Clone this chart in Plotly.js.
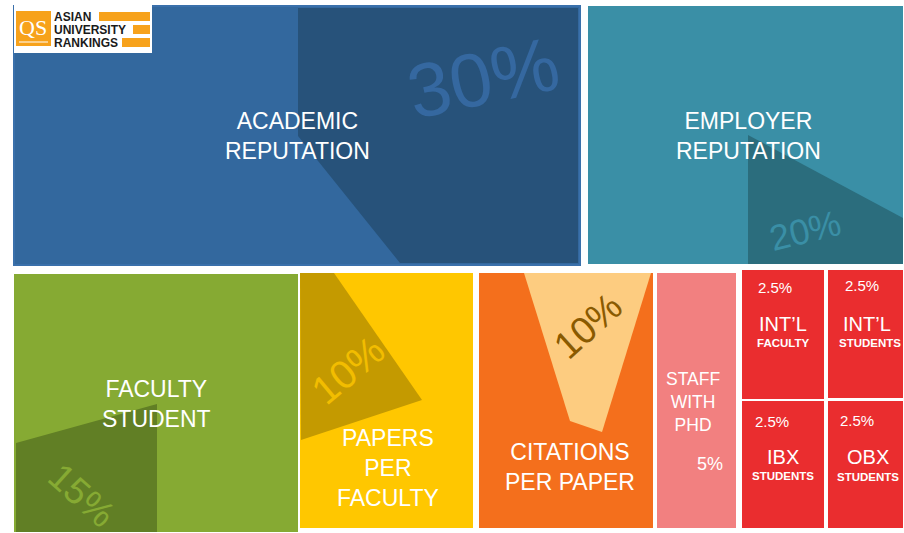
<!DOCTYPE html>
<html>
<head>
<meta charset="utf-8">
<script src="https://cdn.plot.ly/plotly-3.0.1.min.js"></script>
<style>
  html, body { margin: 0; padding: 0; background: #fff; }
  #chart { width: 904px; height: 533px; }
</style>
</head>
<body>
<div id="chart"></div>
<script>
// QS Asian University Rankings – weighting of each indicator
const criteria = [
  'ACADEMIC<br>REPUTATION', 'EMPLOYER<br>REPUTATION', 'FACULTY<br>STUDENT',
  'PAPERS<br>PER<br>FACULTY', 'CITATIONS<br>PER PAPER', 'STAFF<br>WITH<br>PHD',
  'INT’L', 'INT’L', 'IBX', 'OBX',
];
const subLabels = ['', '', '', '', '', '', 'FACULTY', 'STUDENTS', 'STUDENTS', 'STUDENTS'];
const weights = [30, 20, 15, 10, 10, 5, 2.5, 2.5, 2.5, 2.5];

// tile boxes in page pixels [x0, x1, y0, y1]
const boxes = [
  [14, 580, 6, 265], [588, 903, 6, 264], [14, 298, 274, 532],
  [300, 473, 273, 528], [479, 653, 273, 528], [657, 736, 273, 528],
  [742, 824, 270, 399], [828, 903, 270, 398], [742, 824, 401, 528], [828, 903, 401, 528],
];
const fills = ['#33689e', '#3a8fa6', '#86aa33', '#ffc700', '#f46f1c', '#f28080',
  '#ea2d2f', '#ea2d2f', '#ea2d2f', '#ea2d2f'];

const FONT = "'Liberation Sans', Arial, sans-serif";

const data = boxes.map((b, i) => ({
  x: [b[0], b[1], b[1], b[0], b[0]],
  y: [b[2], b[2], b[3], b[3], b[2]],
  mode: 'lines',
  type: 'scatter',
  fill: 'toself',
  fillcolor: fills[i],
  line: { width: 0, color: fills[i] },
  text: `${criteria[i].replace(/<br>/g, ' ')} ${subLabels[i]}: ${weights[i]}%`,
  hoverinfo: 'text',
  showlegend: false,
}));

// decorative accent wedges
const accents = [
  { pts: [[298, 8], [578, 8], [578, 263], [400, 263], [298, 136]], color: '#27527a' },
  { pts: [[748, 135], [903, 218], [903, 264], [748, 264]], color: '#2b6d7d' },
  { pts: [[16, 443], [157, 404], [157, 532], [16, 532]], color: '#617f25' },
  { pts: [[300, 273], [334, 273], [422, 400], [301, 440]], color: '#c49a00' },
  { pts: [[524, 273], [651, 273], [602, 432], [570, 421]], color: '#fdcc80' },
];

const shapes = accents.map(a => ({
  type: 'path', xref: 'x', yref: 'y', layer: 'above',
  path: 'M' + a.pts.map(p => p.join(',')).join(' L') + ' Z',
  fillcolor: a.color, line: { width: 0 },
}));

// academic tile outline
shapes.push({
  type: 'rect', xref: 'x', yref: 'y', layer: 'above',
  x0: boxes[0][0], x1: boxes[0][1], y0: boxes[0][2], y1: boxes[0][3],
  line: { color: '#3a70ab', width: 2 },
});

// logo
shapes.push(
  { type: 'rect', xref: 'x', yref: 'y', x0: 14, x1: 152, y0: 5, y1: 53, fillcolor: '#ffffff', line: { width: 0 }, layer: 'above' },
  { type: 'rect', xref: 'x', yref: 'y', x0: 16, x1: 51, y0: 11, y1: 46, fillcolor: '#f7a21b', line: { width: 0 }, layer: 'above' },
  { type: 'line', xref: 'x', yref: 'y', x0: 19, x1: 48, y0: 42, y1: 42, line: { color: '#ffffff', width: 1 }, layer: 'above' },
  { type: 'rect', xref: 'x', yref: 'y', x0: 99, x1: 150, y0: 12, y1: 21, fillcolor: '#f7a21b', line: { width: 0 }, layer: 'above' },
  { type: 'rect', xref: 'x', yref: 'y', x0: 133, x1: 150, y0: 25, y1: 34, fillcolor: '#f7a21b', line: { width: 0 }, layer: 'above' },
  { type: 'rect', xref: 'x', yref: 'y', x0: 122, x1: 150, y0: 38, y1: 47, fillcolor: '#f7a21b', line: { width: 0 }, layer: 'above' },
);

// label positions (page pixels)
const labelPos = [[297, 136], [748, 136], [156, 404], [388, 468], [570, 467], [693, 402],
  [783, 324], [867, 324], [783, 457], [868, 457]];
const labelSize = [23, 23, 23, 23, 23, 17.5, 20, 20, 20, 20];
const subPos = [null, null, null, null, null, null, [783, 343], [870, 343], [783, 476], [868, 477]];

// percentage labels: [x, y, size, angle, color]
const pctStyle = [
  [483, 77, 76, -12, '#3568a0'],
  [805, 230, 36, -14, '#3a8fa6'],
  [82, 495, 37, 42, '#86aa33'],
  [348, 370, 40, -40, '#f2bd00'],
  [588, 326, 38, -42, '#8a5a00'],
  [710, 464, 18, 0, '#ffffff'],
  [775, 287, 15, 0, '#ffffff'],
  [862, 285, 15, 0, '#ffffff'],
  [772, 421, 15, 0, '#ffffff'],
  [857, 420, 15, 0, '#ffffff'],
];

const annotations = [];
criteria.forEach((c, i) => {
  const s = pctStyle[i];
  annotations.push({
    x: s[0], y: s[1], xref: 'x', yref: 'y', showarrow: false,
    text: `${weights[i]}%`, textangle: s[3],
    font: { family: FONT, size: s[2], color: s[4] },
  });
  annotations.push({
    x: labelPos[i][0], y: labelPos[i][1], xref: 'x', yref: 'y', showarrow: false,
    text: c, font: { family: FONT, size: labelSize[i], color: '#ffffff' },
  });
  if (subPos[i]) {
    annotations.push({
      x: subPos[i][0], y: subPos[i][1], xref: 'x', yref: 'y', showarrow: false,
      text: subLabels[i], font: { family: FONT, size: 11.5, color: '#ffffff', weight: 'bold' },
    });
  }
});

// logo text
[['ASIAN', 17], ['UNIVERSITY', 30], ['RANKINGS', 42.5]].forEach(([t, y]) => {
  annotations.push({
    x: 52, y, xref: 'x', yref: 'y', xanchor: 'left', showarrow: false,
    text: `<b>${t}</b>`, font: { family: FONT, size: 12, color: '#1a1a1a' },
  });
});
annotations.push({
  x: 33, y: 27, xref: 'x', yref: 'y', showarrow: false,
  text: 'QS', font: { family: "'Liberation Serif', 'Times New Roman', serif", size: 22, color: '#ffffff' },
});

const layout = {
  width: 904,
  height: 533,
  margin: { l: 0, r: 0, t: 0, b: 0 },
  xaxis: { range: [0, 904], visible: false, fixedrange: true },
  yaxis: { range: [533, 0], visible: false, fixedrange: true },
  plot_bgcolor: '#FFFFFF',
  paper_bgcolor: '#FFFFFF',
  shapes,
  annotations,
  showlegend: false,
};

Plotly.newPlot('chart', data, layout, { displayModeBar: false, staticPlot: true });
</script>
</body>
</html>
